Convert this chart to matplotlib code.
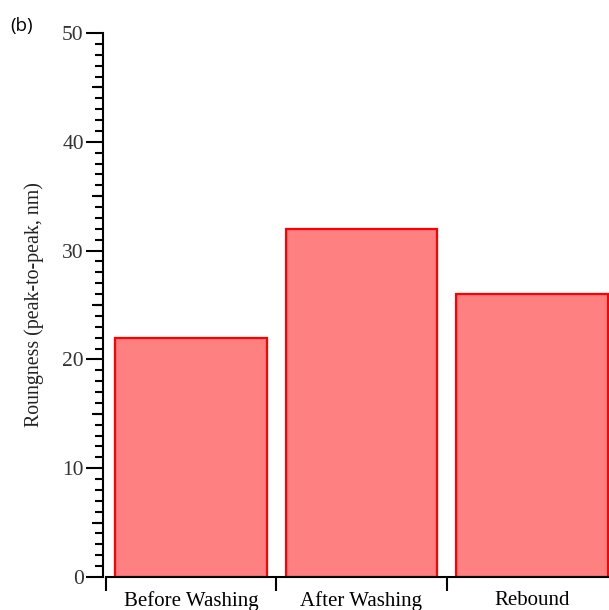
import matplotlib
matplotlib.use('Agg')
from matplotlib import pyplot as plt
from matplotlib.ticker import MultipleLocator

categories = ['Before Washing', 'After Washing', 'Rebound']
roughness = [22, 32, 26]
yticks = [0, 10, 20, 30, 40, 50]

serif = 'Liberation Serif'

fig = plt.figure(figsize=(6.09, 6.10), dpi=100)
# axes run past the right edge of the picture, as in the reference
ax = fig.add_axes([106/609, 33/610, 511/609, 544/610])

x = list(range(len(categories)))
ax.bar(x, roughness, width=0.89, color='#ff8080', edgecolor='#ff0000', linewidth=1.6, zorder=2)

ax.set_xlim(-0.5, 2.5)
ax.set_ylim(0, 50)

for s in ['top', 'right']:
    ax.spines[s].set_visible(False)
ax.spines['left'].set_linewidth(1.5)
ax.spines['bottom'].set_linewidth(1.5)
ax.spines['left'].set_position(('outward', 2))

# x: short inward ticks at the centres, longer outward ticks at the separators
ax.set_xticks(x)
ax.set_xticklabels(categories, fontfamily=serif, fontsize=15)
ax.tick_params(axis='x', which='major', direction='in', length=3, width=1, pad=10, color='#333333')
ax.set_xticks([-0.5, 0.5, 1.5, 2.5], minor=True)
ax.tick_params(axis='x', which='minor', direction='out', length=10, width=1.5)

# y: major every 10, minor every 1, medium ticks at the 5s
ax.set_yticks(yticks)
ax.set_yticklabels([str(v) for v in yticks], fontfamily=serif, fontsize=15.5, color='#333333')
ax.yaxis.set_minor_locator(MultipleLocator(1))
ax.tick_params(axis='y', which='major', direction='out', length=12, width=1.5, pad=2)
ax.tick_params(axis='y', which='minor', direction='out', length=5.5, width=1.5)
sec = ax.secondary_yaxis(-2/511)
sec.set_yticks([5, 15, 25, 35, 45])
sec.set_yticklabels([])
sec.tick_params(length=8.5, width=1.5)
sec.spines['left'].set_visible(False)

ax.set_ylabel('Roungness (peak-to-peak, nm)', fontfamily=serif, fontsize=14.3, color='#222222')
ax.yaxis.set_label_coords(-62/511, 0.5)

fig.text(10/609, 1 - 26/610, '(b)', fontfamily='Open Sans', fontsize=13.5, va='center', ha='left')

fig.savefig('out.png', dpi=100)
